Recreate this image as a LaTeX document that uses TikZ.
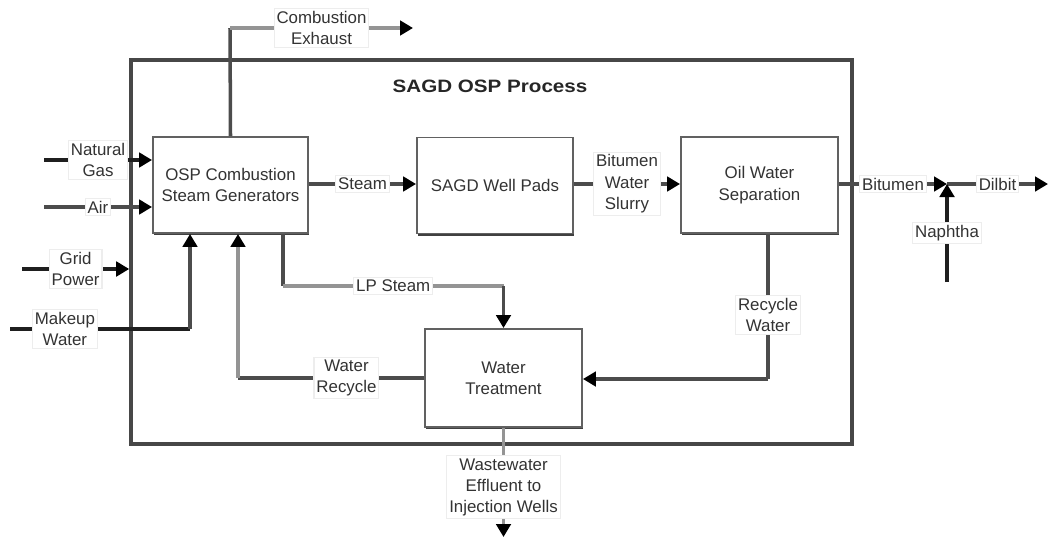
\documentclass[tikz,border=0pt]{standalone}
\usepackage{fontspec}
\setmainfont{Liberation Sans}
\usetikzlibrary{arrows.meta,shadows}

\tikzset{
  txt/.style={font=\fontsize{9.6}{12.2}\selectfont, text=black!80, align=center},
  unit/.style={txt, draw=black!62, line width=1.1pt, fill=white,
    minimum width=3.12cm, minimum height=1.92cm, inner sep=0pt,
    drop shadow={shadow xshift=0.5pt, shadow yshift=-1.3pt, fill=black!75, opacity=1}},
  frame/.style={draw=black!72, line width=2.1pt},
  lbl/.style={txt, fill=white, draw=black!7, line width=0.6pt, inner sep=1.4pt},
  dk/.style={draw=black!70, line width=2pt},
  lt/.style={draw=black!42, line width=2pt},
  blk/.style={draw=black!88, line width=2pt},
  tip/.style={-{Triangle[length=0.26cm,width=0.29cm,color=black]}},
}

\begin{document}
\begin{tikzpicture}[x=0.02cm,y=-0.02cm]
\useasboundingbox (0,0) rectangle (1050,541);

% process boundary and its title
\node[frame, minimum width=14.42cm, minimum height=7.68cm] (sagd) at (491.5,252) {};
\node[font=\fontsize{10.2}{12}\selectfont\bfseries, text=black!85, xscale=1.15] (title) at (490,86) {SAGD OSP Process};

% process units
\node[unit, minimum width=3.1cm] (osp) at (230.5,185) {OSP Combustion\\Steam Generators};
\node[unit] (pads) at (495,185.5) {SAGD Well Pads};
\node[unit, minimum width=3.14cm] (sep) at (759.5,185) {Oil Water\\Separation};
\node[unit, minimum width=3.14cm, minimum height=1.96cm] (wt) at (503.5,378) {Water\\Treatment};

% auxiliary points of the routed streams
\coordinate (ce) at (230,28);
\coordinate (ceend) at (413,28);
\coordinate (ng) at (44,160);
\coordinate (air) at (44,207);
\coordinate (gp) at (22,269);
\coordinate (mw) at (10,329);
\coordinate (mwc) at (190,329);
\coordinate (wr) at (238,378);
\coordinate (lp1) at (283,286);
\coordinate (lp2) at (503.5,286);
\coordinate (rw) at (768,379);
\coordinate (jn) at (947,184);
\coordinate (dil) at (1048,184);
\coordinate (nap) at (947,282);
\coordinate (ww) at (503.5,537);

% exhaust
\draw[dk] (osp.north) -- (ce);
\draw[lt, tip] (ce) -- node[lbl] {Combustion\\Exhaust} (ceend);

% feeds
\draw[blk, tip] (ng) -- node[lbl, pos=0.5] {Natural\\Gas} (ng -| osp.west);
\draw[dk, tip] (air) -- node[lbl, pos=0.5] {Air} (air -| osp.west);
\draw[blk, tip] (gp) -- node[lbl] {Grid\\Power} (gp -| sagd.west);
\draw[blk] (mw) -- node[lbl, pos=0.305] {Makeup\\Water} (mwc);
\draw[dk, tip] (mwc) -- (mwc |- osp.south);

% main train
\draw[dk, tip] (osp.east |- 0,184) -- node[lbl] {Steam} (pads.west |- 0,184);
\draw[dk, tip] (pads.east |- 0,184) -- node[lbl] {Bitumen\\Water\\Slurry} (sep.west |- 0,184);
\draw[dk, tip] (sep.east |- jn) -- node[lbl] {Bitumen} (jn);
\draw[dk, tip] (jn) -- node[lbl] {Dilbit} (dil);
\draw[blk, tip] (nap) -- node[lbl] {Naphtha} (jn);

% water circuit
\draw[dk] (lp1 |- osp.south) -- (lp1);
\draw[lt] (lp1) -- node[lbl] {LP Steam} (lp2);
\draw[dk, tip] (lp2) -- (wt.north);
\draw[dk] (rw |- sep.south) -- node[lbl, pos=0.56] {Recycle\\Water} (rw);
\draw[dk, tip] (rw) -- (rw -| wt.east);
\draw[dk] (wt.west |- wr) -- node[lbl, pos=0.417] {Water\\Recycle} (wr);
\draw[lt, tip] (wr) -- (wr |- osp.south);
\draw[lt, tip] (wt.south) -- node[lbl, pos=0.545] {Wastewater\\Effluent to\\Injection Wells} (ww);
\end{tikzpicture}
\end{document}
